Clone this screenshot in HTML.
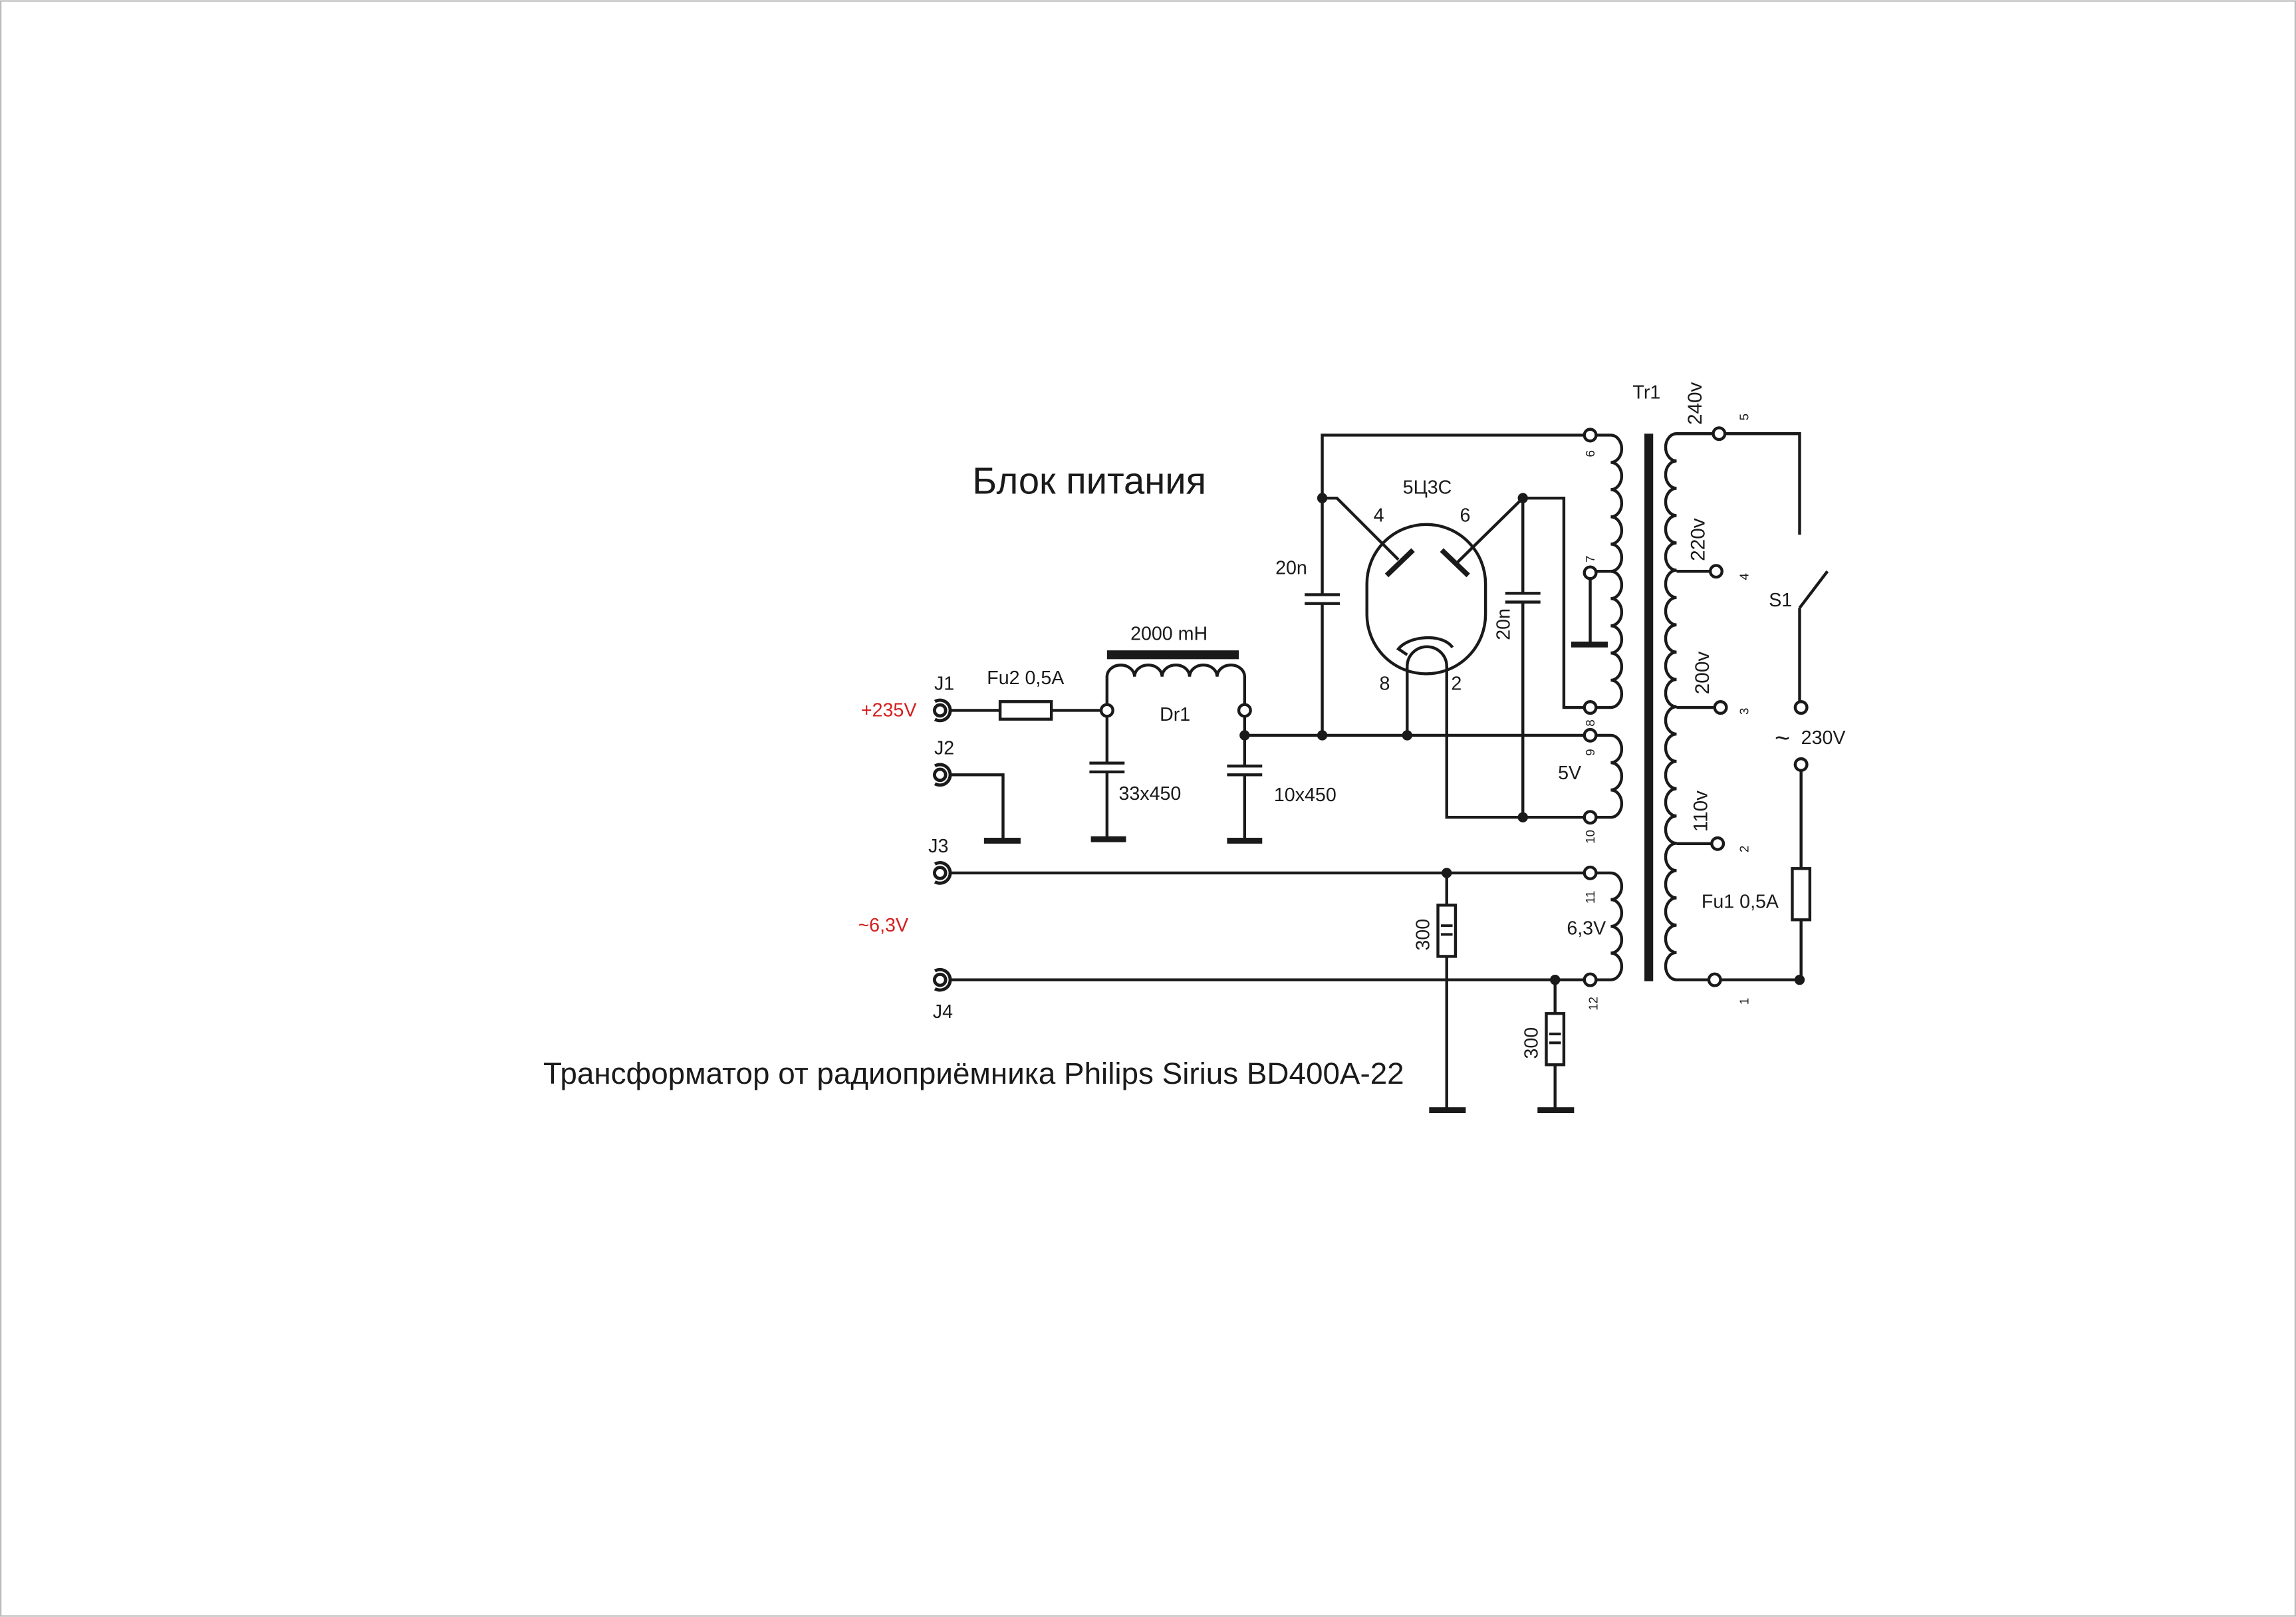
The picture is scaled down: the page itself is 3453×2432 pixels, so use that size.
<!DOCTYPE html>
<html><head><meta charset="utf-8"><style>
html,body{margin:0;padding:0;background:#fff}
svg{display:block}
text{font-family:"Liberation Sans",Arial,sans-serif;fill:#1a1a1a}
</style></head><body>
<svg width="3453" height="2432" viewBox="0 0 1568 1104" xmlns="http://www.w3.org/2000/svg">
<rect x="0.5" y="0.5" width="1567" height="1103" fill="#fff" stroke="#bbb" stroke-width="1"/>
<g fill="none" stroke="#1a1a1a" stroke-width="2">
<!-- jacks -->
<g stroke-width="2.2">
<circle cx="642" cy="485" r="3.8"/><path d="M638.5,478.9 a7,7 0 1 1 0,12.2"/>
<circle cx="642" cy="529" r="3.8"/><path d="M638.5,522.9 a7,7 0 1 1 0,12.2"/>
<circle cx="642" cy="596" r="3.8"/><path d="M638.5,589.9 a7,7 0 1 1 0,12.2"/>
<circle cx="642" cy="669" r="3.8"/><path d="M638.5,662.9 a7,7 0 1 1 0,12.2"/>
</g>
<!-- J1 line, fuse -->
<path d="M649,485 H752"/>
<rect x="683" y="479" width="35" height="12" fill="#fff"/>
<!-- J2 ground -->
<path d="M649,529 H685 V574"/>
<!-- choke -->
<path d="M756,481 V462 a9.4,8 0 0 1 18.8,0 a9.4,8 0 0 1 18.8,0 a9.4,8 0 0 1 18.8,0 a9.4,8 0 0 1 18.8,0 a9.4,8 0 0 1 18.8,0 V481"/>
<!-- caps -->
<path d="M756,489 V521 M744,521 H768 M744,527 H768 M756,527 V574"/>
<path d="M850,489 V523 M838,523 H862 M838,529 H862 M850,529 V574"/>
<!-- main B+ line -->
<path d="M850,502 H1082"/>
<!-- left cap and top wire -->
<path d="M903,502 V412 M891,406 H915 M891,412 H915 M903,406 V297 H1082"/>
<path d="M903,340 H913 L955,382"/>
<!-- tube -->
<path d="M933.5,398.5 a40.5,40.5 0 0 1 81,0 V419.5 a40.5,40.5 0 0 1 -81,0 Z"/>
<path d="M947,392.8 L965,375.5 M984.6,375.5 L1002.7,392.8" stroke-width="3.5"/>
<path d="M1040,340 L995.5,383.7"/>
<path d="M1040,340 H1068 V483 H1082"/>
<path d="M1040,340 V405 M1028,405 H1052 M1028,411 H1052 M1040,411 V558"/>
<!-- filament -->
<path d="M961,502 V455 a13.5,13.5 0 0 1 27,0 V558 H1082"/>
<path d="M961,447 L955,443 C962,434 985,432 992,442"/>
<!-- pin7 to ground -->
<path d="M1086,395 V440"/>
<!-- secondary coils -->
<path d="M1090,297 H1100 a7.5,9.3 0 0 1 0,18.6 a7.5,9.3 0 0 1 0,18.6 a7.5,9.3 0 0 1 0,18.6 a7.5,9.3 0 0 1 0,18.6 a7.5,9.3 0 0 1 0,18.6 a7.5,9.3 0 0 1 0,18.6 a7.5,9.3 0 0 1 0,18.6 a7.5,9.3 0 0 1 0,18.6 a7.5,9.3 0 0 1 0,18.6 a7.5,9.3 0 0 1 0,18.6 H1090"/>
<path d="M1090,390 H1100"/>
<path d="M1090,502 H1100 a7.5,9.33 0 0 1 0,18.67 a7.5,9.33 0 0 1 0,18.67 a7.5,9.33 0 0 1 0,18.67 H1090"/>
<path d="M1090,596 H1100 a7.5,9.12 0 0 1 0,18.25 a7.5,9.12 0 0 1 0,18.25 a7.5,9.12 0 0 1 0,18.25 a7.5,9.12 0 0 1 0,18.25 H1090"/>
<!-- primary -->
<path d="M1170,296 H1145 a7.5,9.32 0 0 0 0,18.65 a7.5,9.32 0 0 0 0,18.65 a7.5,9.32 0 0 0 0,18.65 a7.5,9.32 0 0 0 0,18.65 a7.5,9.32 0 0 0 0,18.65 a7.5,9.32 0 0 0 0,18.65 a7.5,9.32 0 0 0 0,18.65 a7.5,9.32 0 0 0 0,18.65 a7.5,9.32 0 0 0 0,18.65 a7.5,9.32 0 0 0 0,18.65 a7.5,9.32 0 0 0 0,18.65 a7.5,9.32 0 0 0 0,18.65 a7.5,9.32 0 0 0 0,18.65 a7.5,9.32 0 0 0 0,18.65 a7.5,9.32 0 0 0 0,18.65 a7.5,9.32 0 0 0 0,18.65 a7.5,9.32 0 0 0 0,18.65 a7.5,9.32 0 0 0 0,18.65 a7.5,9.32 0 0 0 0,18.65 a7.5,9.32 0 0 0 0,18.65 H1167"/>
<path d="M1145,390 H1168 M1145,483 H1171 M1145,576 H1169"/>
<!-- switch and mains -->
<path d="M1178,296 H1229 V365 M1229,415 L1248,390 M1229,415 V479"/>
<path d="M1230,526 V669 H1175"/>
<rect x="1224" y="593" width="12" height="35" fill="#fff"/>
<!-- heater lines -->
<path d="M649,596 H1082 M649,669 H1082"/>
<path d="M988,596 V758 M1062,669 V758"/>
<rect x="982" y="618" width="12" height="35" fill="#fff"/>
<rect x="1056" y="692" width="12" height="35" fill="#fff"/>
<path d="M984,632 H992 M984,638 H992 M1058,706 H1066 M1058,712 H1066" stroke-width="1.8"/>
<!-- open terminals -->
<g fill="#fff">
<circle cx="756" cy="485" r="4"/><circle cx="850" cy="485" r="4"/>
<circle cx="1086" cy="297" r="4"/><circle cx="1086" cy="391" r="4"/><circle cx="1086" cy="483" r="4"/>
<circle cx="1086" cy="502" r="4"/><circle cx="1086" cy="558" r="4"/><circle cx="1086" cy="596" r="4"/><circle cx="1086" cy="669" r="4"/>
<circle cx="1174" cy="296" r="4"/><circle cx="1172" cy="390" r="4"/><circle cx="1175" cy="483" r="4"/><circle cx="1173" cy="576" r="4"/><circle cx="1171" cy="669" r="4"/>
<circle cx="1230" cy="483" r="4"/><circle cx="1230" cy="522" r="4"/>
</g>
</g>
<!-- solid bars & dots -->
<g fill="#1a1a1a">
<rect x="756" y="444" width="90" height="6"/>
<rect x="1123" y="296" width="6" height="374"/>
<rect x="672" y="572" width="25" height="4"/>
<rect x="745" y="571" width="24" height="4"/>
<rect x="838" y="572" width="24" height="4"/>
<rect x="1073" y="438" width="25" height="4"/>
<rect x="976" y="756" width="25" height="4"/>
<rect x="1050" y="756" width="25" height="4"/>
<circle cx="850" cy="502" r="3.5"/><circle cx="903" cy="502" r="3.5"/><circle cx="961" cy="502" r="3.5"/>
<circle cx="903" cy="340" r="3.5"/><circle cx="1040" cy="340" r="3.5"/><circle cx="1040" cy="558" r="3.5"/>
<circle cx="988" cy="596" r="3.5"/><circle cx="1062" cy="669" r="3.5"/><circle cx="1229" cy="669" r="3.5"/>
</g>
<!-- text -->
<text x="664" y="337" font-size="25.5">Блок питания</text>
<text x="371" y="740" font-size="20.8">Трансформатор от радиоприёмника Philips Sirius BD400A-22</text>
<g font-size="13">
<text x="638" y="471">J1</text><text x="638" y="515">J2</text><text x="634" y="582">J3</text><text x="637" y="695">J4</text>
<text x="588" y="489" style="fill:#d42020">+235V</text>
<text x="586" y="636" style="fill:#d42020">~6,3V</text>
<text x="674" y="467">Fu2 0,5A</text>
<text x="772" y="437">2000 mH</text>
<text x="792" y="492">Dr1</text>
<text x="764" y="546">33x450</text>
<text x="870" y="547">10x450</text>
<text x="871" y="392">20n</text>
<text x="958" y="337">5Ц3С</text>
<text x="938" y="356">4</text><text x="997" y="356">6</text>
<text x="942" y="471">8</text><text x="991" y="471">2</text>
<text x="1064" y="532">5V</text>
<text x="1070" y="638">6,3V</text>
<text x="1115" y="272">Tr1</text>
<text x="1208" y="414">S1</text>
<text x="1230" y="508">230V</text>
<text x="1212" y="510" font-size="18">~</text>
<text x="1162" y="620">Fu1 0,5A</text>
<text transform="translate(1031,437) rotate(-90)">20n</text>
<text transform="translate(976,649) rotate(-90)">300</text>
<text transform="translate(1050,723) rotate(-90)">300</text>
</g>
<g font-size="13.5">
<text transform="translate(1162,290) rotate(-90)">240v</text>
<text transform="translate(1164,383) rotate(-90)">220v</text>
<text transform="translate(1167,474) rotate(-90)">200v</text>
<text transform="translate(1166,568) rotate(-90)">110v</text>
</g>
<g font-size="8.5">
<text transform="translate(1089,312) rotate(-90)">6</text>
<text transform="translate(1089,384) rotate(-90)">7</text>
<text transform="translate(1089,496) rotate(-90)">8</text>
<text transform="translate(1089,516) rotate(-90)">9</text>
<text transform="translate(1089,576) rotate(-90)">10</text>
<text transform="translate(1089,617) rotate(-90)">11</text>
<text transform="translate(1091,690) rotate(-90)">12</text>
<text transform="translate(1194,287) rotate(-90)">5</text>
<text transform="translate(1194,396) rotate(-90)">4</text>
<text transform="translate(1194,488) rotate(-90)">3</text>
<text transform="translate(1194,582) rotate(-90)">2</text>
<text transform="translate(1194,686) rotate(-90)">1</text>
</g>
</svg>
</body></html>
